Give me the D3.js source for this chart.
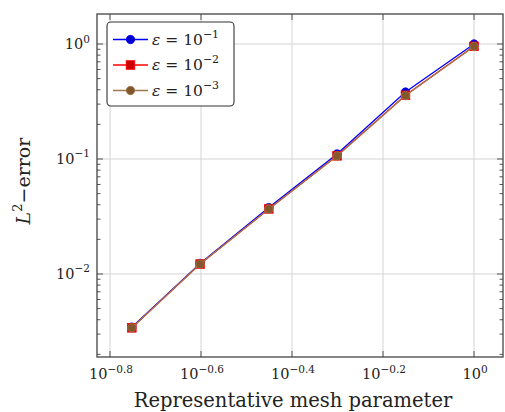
<!DOCTYPE html>
<html>
<head>
<meta charset="utf-8">
<script src="https://cdn.jsdelivr.net/npm/d3@7"></script>
<style>
  html, body { margin: 0; padding: 0; background: #fff; }
  svg text { font-family: "DejaVu Serif", "Liberation Serif", serif; fill: #222; }
</style>
</head>
<body>
<svg id="chart" width="505" height="412"></svg>
<script>
// mesh parameter h and the L2 error for each epsilon
const meshSizes = [0.177, 0.25, 0.354, 0.5, 0.707, 1.0];
const errEps1 = [0.00345, 0.01235, 0.0378, 0.1105, 0.382, 1.0];
const errEps2 = [0.0034, 0.0122, 0.0368, 0.1065, 0.358, 0.955];
const errEps3 = [0.0034, 0.0122, 0.0367, 0.1063, 0.356, 0.952];
const seriesNames = ["1", "2", "3"];
const xTickExps = ["−0.8", "−0.6", "−0.4", "−0.2", "0"];
const xTickVals = [-0.8, -0.6, -0.4, -0.2, 0];
const yTickExps = ["0", "−1", "−2"];
const yTickVals = [0, -1, -2];

const svg = d3.select("#chart");
const mLeft = 97, mRight = 503, mTop = 14, mBottom = 357;

const x = d3.scaleLog()
  .domain([Math.pow(10, -0.8286), Math.pow(10, 0.0637)])
  .range([mLeft, mRight]);
const y = d3.scaleLog()
  .domain([Math.pow(10, -2.722), Math.pow(10, 0.261)])
  .range([mBottom, mTop]);

const gridColor = "#d4d4d4";
const axisColor = "#444";

// grid
svg.append("g").selectAll("line")
  .data(xTickVals).join("line")
  .attr("x1", d => x(Math.pow(10, d))).attr("x2", d => x(Math.pow(10, d)))
  .attr("y1", mTop).attr("y2", mBottom)
  .attr("stroke", gridColor).attr("stroke-width", 1);
svg.append("g").selectAll("line")
  .data(yTickVals).join("line")
  .attr("y1", d => y(Math.pow(10, d))).attr("y2", d => y(Math.pow(10, d)))
  .attr("x1", mLeft).attr("x2", mRight)
  .attr("stroke", gridColor).attr("stroke-width", 1);

// ticks, pointing inward on all four sides
const ticks = svg.append("g").attr("stroke", axisColor).attr("stroke-width", 0.9);
xTickVals.forEach(d => {
  const px = x(Math.pow(10, d));
  ticks.append("line").attr("x1", px).attr("x2", px).attr("y1", mBottom).attr("y2", mBottom - 6);
  ticks.append("line").attr("x1", px).attr("x2", px).attr("y1", mTop).attr("y2", mTop + 6);
});
const minorY = [];
for (let k = -3; k <= 0; k++) {
  for (let m = 2; m <= 9; m++) {
    const v = m * Math.pow(10, k);
    if (v > y.domain()[0] && v < y.domain()[1]) minorY.push(v);
  }
}
yTickVals.forEach(d => {
  const py = y(Math.pow(10, d));
  ticks.append("line").attr("x1", mLeft).attr("x2", mLeft + 6).attr("y1", py).attr("y2", py);
  ticks.append("line").attr("x1", mRight).attr("x2", mRight - 6).attr("y1", py).attr("y2", py);
});
minorY.forEach(v => {
  const py = y(v);
  ticks.append("line").attr("x1", mLeft).attr("x2", mLeft + 3.5).attr("y1", py).attr("y2", py);
  ticks.append("line").attr("x1", mRight).attr("x2", mRight - 3.5).attr("y1", py).attr("y2", py);
});

// frame
svg.append("rect")
  .attr("x", mLeft).attr("y", mTop)
  .attr("width", mRight - mLeft).attr("height", mBottom - mTop)
  .attr("fill", "none").attr("stroke", axisColor).attr("stroke-width", 1.3);

// tick labels
function powLabel(g, exp, px, py, anchor) {
  const t = g.append("text").attr("x", px).attr("y", py)
    .attr("text-anchor", anchor).attr("font-size", 14.5);
  t.append("tspan").text("10");
  t.append("tspan").attr("font-size", 10.5).attr("dy", -6.5).text(exp);
  return t;
}
const labels = svg.append("g");
xTickVals.forEach((d, i) => powLabel(labels, xTickExps[i], x(Math.pow(10, d)) + 1, 379, "middle"));
yTickVals.forEach((d, i) => powLabel(labels, yTickExps[i], 90, y(Math.pow(10, d)) + 5, "end"));

// axis titles
svg.append("text")
  .attr("x", 293).attr("y", 407)
  .attr("text-anchor", "middle").attr("font-size", 19.5)
  .text("Representative mesh parameter");
const yt = svg.append("text")
  .attr("transform", "translate(30,181) rotate(-90)")
  .attr("text-anchor", "middle").attr("font-size", 19);
yt.append("tspan").attr("font-style", "italic").text("L");
yt.append("tspan").attr("font-size", 13).attr("dy", -8).text("2");
yt.append("tspan").attr("dy", 8).text("−error");

// series
const series = [
  { name: seriesNames[0], values: errEps1, line: "#0000ff", fill: "#0000cc", mark: "circle" },
  { name: seriesNames[1], values: errEps2, line: "#ff0000", fill: "#cc0000", mark: "square" },
  { name: seriesNames[2], values: errEps3, line: "#a07850", fill: "#83572c", mark: "circle" }
];
const line = d3.line().x(d => x(d[0])).y(d => y(d[1]));

function drawMark(g, s, px, py) {
  if (s.mark === "circle") {
    g.append("circle").attr("cx", px).attr("cy", py).attr("r", 4.2)
      .attr("fill", s.fill).attr("stroke", s.line).attr("stroke-width", 0.8);
  } else {
    g.append("rect").attr("x", px - 4.3).attr("y", py - 4.3).attr("width", 8.6).attr("height", 8.6)
      .attr("fill", s.fill).attr("stroke", s.line).attr("stroke-width", 0.8);
  }
}

series.forEach(s => {
  const pts = meshSizes.map((h, i) => [h, s.values[i]]);
  const g = svg.append("g");
  g.append("path").attr("d", line(pts))
    .attr("fill", "none").attr("stroke", s.line).attr("stroke-width", 1.3);
  pts.forEach(p => drawMark(g, s, x(p[0]), y(p[1])));
});

// legend
const lg = svg.append("g");
lg.append("rect").attr("x", 107).attr("y", 22).attr("width", 127).attr("height", 84)
  .attr("rx", 4).attr("fill", "#fff").attr("stroke", "#333").attr("stroke-width", 1.1);
series.forEach((s, i) => {
  const cy = 39.5 + i * 25.5;
  lg.append("line").attr("x1", 113).attr("x2", 148).attr("y1", cy).attr("y2", cy)
    .attr("stroke", s.line).attr("stroke-width", 1.3);
  drawMark(lg, s, 130.5, cy);
  const t = lg.append("text").attr("x", 152).attr("y", cy + 5).attr("font-size", 15.5);
  t.append("tspan").attr("font-style", "italic").text("ε");
  t.append("tspan").text(" = 10");
  t.append("tspan").attr("font-size", 11).attr("dy", -7).text("−" + s.name);
});
</script>
</body>
</html>
